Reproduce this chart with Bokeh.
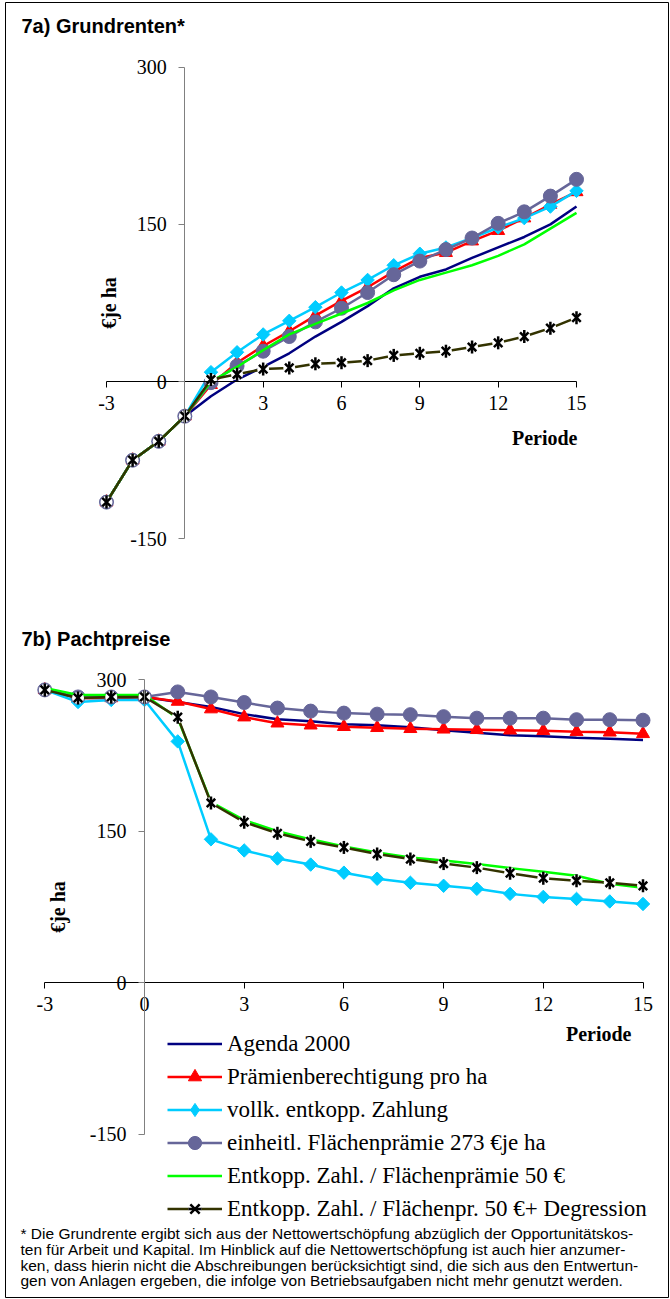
import math
from bokeh.plotting import figure
from bokeh.models import Range1d, LinearAxis, FixedTicker, Legend, LegendItem
from bokeh.embed import file_html
from bokeh.resources import INLINE
from bokeh.core.properties import value

# ---------------- data ----------------
periods = list(range(-3, 16))

# 7a) Grundrenten (€ je ha)
a_agenda = [-115, -75, -57, -33, -14, 2, 14, 27, 43, 57, 72, 89, 100, 107, 118, 128, 138, 150, 167]
a_praemie = [-115, -75, -57, -33, -3, 18, 34, 48, 63, 77, 90, 105, 118, 123, 134, 144, 156, 169, 181]
a_vollk = [-115, -75, -57, -33, 9, 28, 45, 58, 71, 85, 97, 111, 122, 128, 137, 147, 156, 167, 182]
a_einheitl = [-115, -75, -57, -33, -1, 15, 29, 43, 57, 70, 85, 102, 115, 126, 137, 151, 162, 177, 193]
a_entk50 = [-115, -75, -57, -33, 0, 14, 30, 45, 55, 65, 75, 87, 97, 104, 111, 120, 131, 146, 161]
a_degr = [-115, -75, -57, -33, 2, 7, 12, 13, 17, 18, 20, 25, 27, 29, 33, 37, 43, 51, 61]

# 7b) Pachtpreise (€ je ha)
b_agenda = [290, 282, 282, 283, 278, 273, 266, 261, 259, 256, 255, 253, 250, 247.5, 245, 244, 242.5, 241.5, 240.5]
b_praemie = [290, 282, 282, 283, 278.5, 271, 263, 257, 255, 253.5, 252.5, 251.5, 251, 250.5, 250, 249.5, 248.5, 248, 246.5]
b_vollk = [290, 278, 280, 280, 239, 142, 131, 123, 117, 109, 103, 99, 96, 93, 88, 85, 83, 80.5, 78]
b_einheitl = [290, 283, 283, 283, 288, 283, 277.5, 272, 269, 267, 266, 265.5, 263.5, 262, 262, 262, 260.5, 260.5, 260]
b_entk50 = [292, 285, 285, 285, 262, 179, 161, 150, 142, 135, 129, 124, 121, 117.5, 113.5, 110, 106, 98, 94]
b_degr = [290, 282, 283, 283, 263, 178, 159, 148, 140, 134, 127.5, 122.5, 118, 114, 108.5, 103.5, 101, 99, 96]

series_names = [
    "Agenda 2000",
    "Prämienberechtigung pro ha",
    "vollk. entkopp. Zahlung",
    "einheitl. Flächenprämie 273 €je ha",
    "Entkopp. Zahl. / Flächenprämie 50 €",
    "Entkopp. Zahl. / Flächenpr. 50 €+ Degression",
]
x_ticks_a = [-3, 3, 6, 9, 12, 15]
x_ticks_b = [-3, 0, 3, 6, 9, 12, 15]
y_ticks = [-150, 0, 150, 300]
tick_text = {-3: "-3", -150: "-150"}
title_a = "7a) Grundrenten*"
title_b = "7b) Pachtpreise"
y_label = "€je ha"
x_label = "Periode"
footnote_lines = [
    "* Die Grundrente ergibt sich aus der Nettowertschöpfung abzüglich der Opportunitätskos-",
    "ten für Arbeit und Kapital. Im Hinblick auf die Nettowertschöpfung ist auch hier anzumer-",
    "ken, dass hierin nicht die Abschreibungen berücksichtigt sind, die sich aus den Entwertun-",
    "gen von Anlagen ergeben, die infolge von Betriebsaufgaben nicht mehr genutzt werden.",
]

# ---------------- layout ----------------
W, H = 670, 1299
FL, FR, FT, FB = 5, 668, 2, 1297  # frame edges (canvas px)


def lin_range(v0, p0, v1, p1, lo, hi):
    k = (p1 - p0) / (v1 - v0)
    return Range1d(start=v0 + (lo - p0) / k, end=v0 + (hi - p0) / k)


p = figure(
    width=W, height=H, output_backend="svg", toolbar_location=None, tools="",
    x_range=lin_range(-3, 106, 15, 576, FL, FR),
    y_range=lin_range(-150, 538.3, 300, 66.7, FB, FT),
    min_border_left=FL, min_border_right=W - FR,
    min_border_top=FT, min_border_bottom=H - FB,
)
p.extra_x_ranges = {"xb": lin_range(-3, 44.3, 15, 642.5, FL, FR), "px": Range1d(FL, FR)}
p.extra_y_ranges = {"yb": lin_range(-150, 1133.7, 300, 679.3, FB, FT), "py": Range1d(FB, FT)}
p.grid.visible = False
p.outline_line_color = "black"
p.outline_line_width = 1
p.background_fill_color = "white"
p.border_fill_color = "white"

SERIF = "Liberation Serif"
SANS = "Liberation Sans"


def style_axis(ax, ticks, color, standoff):
    ax.ticker = FixedTicker(ticks=ticks)
    ax.fixed_location = 0
    ax.major_tick_in = 0
    ax.major_tick_out = 6
    ax.minor_tick_line_color = None
    ax.axis_line_color = color
    ax.major_tick_line_color = color
    ax.axis_line_width = 1
    ax.major_label_text_font = SERIF
    ax.major_label_text_font_size = "20px"
    ax.major_label_text_color = "black"
    ax.major_label_standoff = standoff
    ax.major_label_overrides = dict(tick_text)


def style_ylabel(ax, standoff):
    ax.axis_label = y_label
    ax.axis_label_text_font = SERIF
    ax.axis_label_text_font_style = "bold"
    ax.axis_label_text_font_size = "20px"
    ax.axis_label_text_color = "black"
    ax.axis_label_standoff = standoff


# chart a axes (default axes)
xa = p.below[0]
ya = p.left[0]
style_axis(xa, x_ticks_a, "black", 8)
xa.bounds = (-3, 15)
style_axis(ya, y_ticks, "#808080", 12)
ya.bounds = (-150, 300)
style_ylabel(ya, 7)

# chart b axes
xb = LinearAxis(x_range_name="xb", y_range_name="yb")
style_axis(xb, x_ticks_b, "black", 8)
xb.bounds = (-3, 15)
p.add_layout(xb, "below")
yb = LinearAxis(x_range_name="xb", y_range_name="yb")
style_axis(yb, y_ticks, "#808080", 12)
yb.bounds = (-150, 300)
style_ylabel(yb, 18)
p.add_layout(yb, "left")

C_AGENDA = "#000080"
C_RED = "#FF0000"
C_CYAN = "#00CCFF"
C_PURPLE = "#666699"
C_GREEN = "#00FF00"
C_OLIVE = "#333300"
LW = 2.5


def draw(vals, **kw):
    agenda, praem, vollk, einh, entk, degr = vals
    rs = []
    rs.append([p.line(periods, agenda, line_color=C_AGENDA, line_width=LW, **kw)])
    rs.append([
        p.line(periods, praem, line_color=C_RED, line_width=LW, **kw),
        p.scatter(periods, praem, marker="triangle", size=13, fill_color=C_RED, line_color=C_RED, **kw),
    ])
    rs.append([
        p.line(periods, vollk, line_color=C_CYAN, line_width=LW, **kw),
        # legend swatch (legend glyphs are never rotated); hidden under the diamonds below
        p.scatter(periods, vollk, marker="diamond", size=1, fill_color=C_CYAN, line_color=C_CYAN, **kw),
    ])
    p.scatter(periods, vollk, marker="square", angle=math.pi / 4, size=9.5,
              fill_color=C_CYAN, line_color=C_CYAN, **kw)
    rs.append([
        p.line(periods, einh, line_color=C_PURPLE, line_width=LW, **kw),
        p.scatter(periods, einh, marker="circle", size=14, fill_color=C_PURPLE, line_color=C_PURPLE, **kw),
    ])
    rs.append([p.line(periods, entk, line_color=C_GREEN, line_width=LW, **kw)])
    rs.append([
        p.line(periods, degr, line_color=C_OLIVE, line_width=LW, **kw),
        p.scatter(periods, degr, marker="circle", size=12, fill_color="white", line_color=None, **kw),
        p.scatter(periods, degr, marker="x", size=12, line_color="black", line_width=2.5, **kw),
        p.scatter(periods, degr, marker="dash", angle=math.pi / 2, size=13, line_color="black",
                  line_width=2.5, **kw),
    ])
    return rs


draw([a_agenda, a_praemie, a_vollk, a_einheitl, a_entk50, a_degr])
rb = draw([b_agenda, b_praemie, b_vollk, b_einheitl, b_entk50, b_degr],
          x_range_name="xb", y_range_name="yb")

legend = Legend(
    items=[LegendItem(label=n, renderers=r) for n, r in zip(series_names, rb)],
    location=(162, 72), orientation="vertical",
    glyph_width=55, glyph_height=33, label_height=33, spacing=0, padding=0, margin=0,
    label_standoff=5, border_line_color=None, background_fill_alpha=0,
    label_text_font=SERIF, label_text_font_size="23px", label_text_color="black",
)
p.add_layout(legend)

PX = dict(x_range_name="px", y_range_name="py")
# titles
p.text(x=[21, 21], y=[25, 638], text=[title_a, title_b], text_font=value(SANS),
       text_font_style="bold", text_font_size="20px", text_baseline="middle",
       text_align="left", text_color="black", **PX)
# x axis labels
p.text(x=[577, 631], y=[437, 1033], text=[x_label, x_label], text_font=value(SERIF),
       text_font_style="bold", text_font_size="20px", text_baseline="middle",
       text_align="right", text_color="black", **PX)
# footnote
p.text(x=[20] * len(footnote_lines), y=[1233 + 15.8 * i for i in range(len(footnote_lines))],
       text=footnote_lines, text_font=value(SANS), text_font_size="15.5px",
       text_baseline="middle", text_align="left", text_color="black", **PX)

open("out.html", "w").write(file_html(p, INLINE))
